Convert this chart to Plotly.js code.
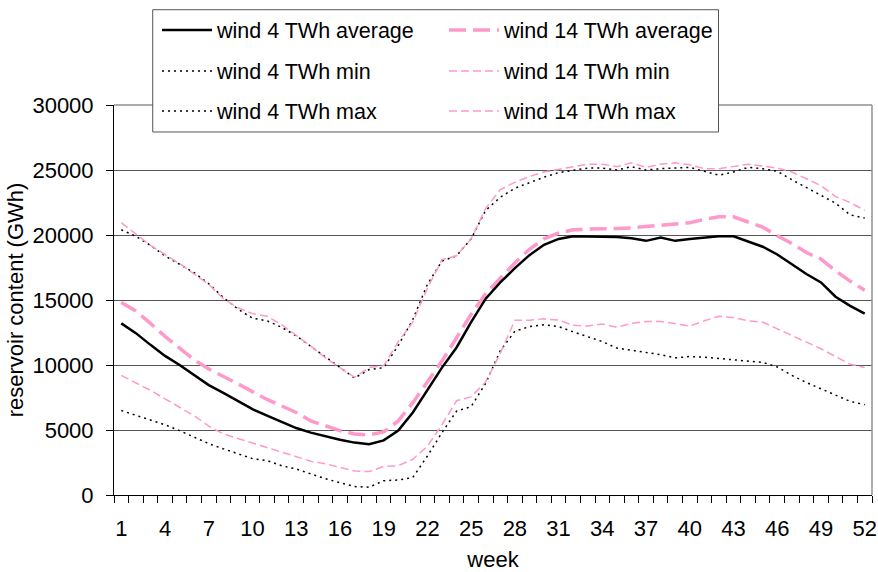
<!DOCTYPE html>
<html><head><meta charset="utf-8">
<script src="https://cdn.plot.ly/plotly-3.0.1.min.js"></script>
<style>html,body{margin:0;padding:0;background:#fff;} #chart{width:878px;height:572px;}</style>
</head><body><div id="chart"></div>
<script>
const weeks = [1,2,3,4,5,6,7,8,9,10,11,12,13,14,15,16,17,18,19,20,21,22,23,24,25,26,
  27,28,29,30,31,32,33,34,35,36,37,38,39,40,41,42,43,44,45,46,47,48,49,50,51,52];
const tickWeeks = [1,4,7,10,13,16,19,22,25,28,31,34,37,40,43,46,49,52];
const tickLabels = ['1','4','7','10','13','16','19','22','25','28','31','34','37','40','43','46','49','52'];

const wind4Avg = [13200,12450,11550,10700,10000,9250,8450,7850,7200,6600,6100,5650,5150,4800,4500,4250,4030,3900,4200,4950,
  6350,8050,9800,11350,13300,15100,16350,17450,18450,19250,19700,19900,19900,19900,19850,19750,19550,19800,19550,19700,
  19800,19900,19900,19500,19100,18500,17750,17000,16350,15250,14550,13950];
const wind14Avg = [14800,14150,13200,12200,11300,10400,9700,9150,8550,7950,7350,6850,6350,5700,5300,4950,4700,4620,4850,5700,
  7100,8700,10300,12100,13900,15500,16700,17850,18900,19700,20150,20400,20450,20450,20500,20550,20650,20800,20850,20950,
  21200,21400,21400,21000,20600,19950,19350,18650,18150,17250,16450,15750];
const wind4Min = [6500,6150,5800,5400,4950,4450,3950,3550,3150,2800,2650,2250,2000,1600,1250,950,650,600,1100,1150,
  1350,3000,4800,6450,6800,8600,11100,12600,12950,13100,12950,12550,12150,11800,11300,11150,10950,10800,10550,10650,
  10600,10500,10350,10250,10200,9850,9200,8650,8150,7700,7200,6950];
const wind4Max = [20400,19900,19200,18400,17750,17100,16250,15200,14300,13600,13400,12900,12250,11450,10600,9850,9000,9650,9800,11500,
  13500,16200,18000,18400,19700,21900,22900,23600,24050,24450,24800,24950,25150,25150,25000,25250,25000,25100,25150,25200,
  24900,24600,24850,25200,25100,24900,24250,23650,23100,22450,21550,21300];
const wind14Min = [9200,8650,8050,7400,6750,6100,5300,4700,4350,4000,3650,3300,3000,2600,2400,2150,1850,1800,2200,2250,
  2750,3750,5400,7250,7550,8700,10900,13450,13450,13550,13450,13050,13000,13150,12900,13200,13350,13350,13150,13000,
  13400,13750,13650,13400,13300,12800,12300,11800,11250,10650,10050,9800];
const wind14Max = [20950,20050,19200,18500,17800,17000,16200,15100,14400,13950,13750,13100,12300,11450,10550,9800,9050,9800,9950,11800,
  13300,15900,18100,18400,19700,22050,23500,24050,24500,24850,25050,25300,25450,25450,25250,25550,25200,25450,25550,25400,
  25100,25100,25250,25450,25300,25150,24850,24350,23800,22950,22500,21900];

const FONT = 'Liberation Sans, Arial, sans-serif';
const PINK = '#FF99CC';
function tr(y, name, color, width, dash, legend, rank) {
  return {x: weeks, y: y, name: name, type: 'scatter', mode: 'lines',
    line: {color: color, width: width, dash: dash}, legend: legend, legendrank: rank, hoverinfo: 'skip'};
}
const data = [
  tr(wind4Min, 'wind 4 TWh min', '#000', 1.5, '2px,4px', 'legend2', 1),
  tr(wind14Min, 'wind 14 TWh min', PINK, 1.5, '8px,4px', 'legend2', 2),
  tr(wind4Max, 'wind 4 TWh max', '#000', 1.5, '2px,4px', 'legend3', 1),
  tr(wind14Max, 'wind 14 TWh max', PINK, 1.5, '8px,4px', 'legend3', 2),
  tr(wind14Avg, 'wind 14 TWh average', PINK, 3.5, '17px,7px', 'legend', 2),
  tr(wind4Avg, 'wind 4 TWh average', '#000', 2.5, 'solid', 'legend', 1)
];
function leg(yPx) {
  return {orientation: 'h', xref: 'container', yref: 'container', x: 157/878, y: 1 - yPx/572,
    xanchor: 'left', yanchor: 'middle', entrywidth: 222, entrywidthmode: 'pixels', itemwidth: 50,
    font: {family: FONT, size: 21.5, color: '#000'}, bgcolor: 'rgba(0,0,0,0)', borderwidth: 0,
    traceorder: 'normal'};
}
const layout = {
  width: 878, height: 572,
  margin: {l: 114, r: 6, t: 105, b: 77, pad: 0, autoexpand: false},
  paper_bgcolor: '#fff', plot_bgcolor: '#fff',
  showlegend: true,
  legend: leg(30), legend2: leg(71), legend3: leg(111),
  xaxis: {range: [0.5, 52.5], tickmode: 'array', tickvals: tickWeeks, ticktext: tickLabels,
    ticks: '', showgrid: false, zeroline: false, showline: true, linecolor: '#000', linewidth: 1,
    tickfont: {family: FONT, size: 22, color: '#000'}, ticklabelstandoff: 14,
    minor: {tickmode: 'linear', tick0: 0.5, dtick: 1, ticks: 'outside', ticklen: 7, tickcolor: '#000', tickwidth: 1, showgrid: false},
    title: {text: 'week', font: {family: FONT, size: 22, color: '#000'}, standoff: 14},
    automargin: false, fixedrange: true},
  yaxis: {range: [0, 30000], tickmode: 'linear', tick0: 0, dtick: 5000, tickformat: 'd', ticks: 'outside', ticklen: 7,
    tickcolor: '#000', tickwidth: 1, showgrid: true, gridcolor: '#555', gridwidth: 1, zeroline: false,
    showline: true, linecolor: '#000', linewidth: 1,
    tickfont: {family: FONT, size: 22, color: '#000'}, ticklabelstandoff: 8,
    title: {text: 'reservoir content (GWh)', font: {family: FONT, size: 22, color: '#000'}, standoff: 2},
    automargin: false, fixedrange: true},
  shapes: [
    {type: 'line', xref: 'paper', yref: 'paper', x0: 0, x1: 1, y0: 1, y1: 1, line: {color: '#909090', width: 1.5}, layer: 'above'},
    {type: 'line', xref: 'paper', yref: 'paper', x0: 1, x1: 1, y0: 0, y1: 1, line: {color: '#909090', width: 1.5}, layer: 'above'},
    {type: 'rect', xref: 'paper', yref: 'paper', x0: 0.0511, x1: 0.7975, y0: 0.9308, y1: 1.2443,
      fillcolor: '#fff', line: {color: '#555', width: 1}, layer: 'above'}
  ]
};
Plotly.newPlot('chart', data, layout, {staticPlot: true, displayModeBar: false});
</script>
</body></html>
